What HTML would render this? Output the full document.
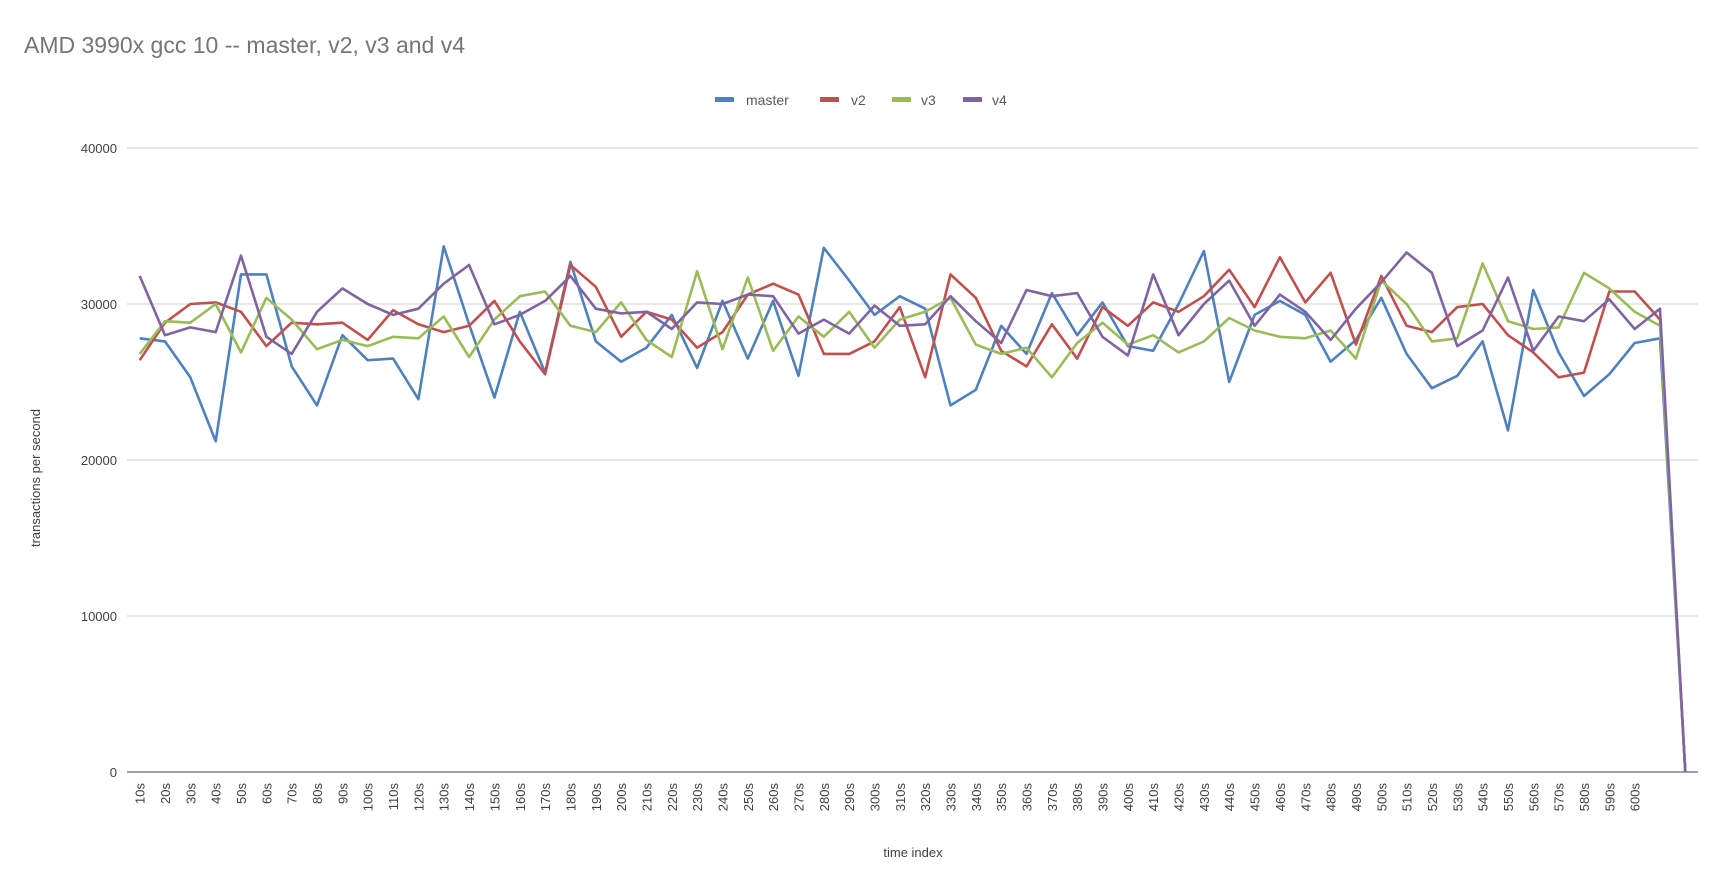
<!DOCTYPE html>
<html><head><meta charset="utf-8"><style>
html,body{margin:0;padding:0;background:#fff;}
svg{display:block;font-family:"Liberation Sans",sans-serif;}
</style></head><body>
<svg id="c" width="1722" height="871" xmlns="http://www.w3.org/2000/svg">
<text x="24" y="53" font-size="23" fill="#757575">AMD 3990x gcc 10 -- master, v2, v3 and v4</text>
<rect x="715" y="97" width="19" height="5" fill="#4f81bd"/><text x="746" y="105" font-size="14" fill="#595959">master</text>
<rect x="820" y="97" width="19" height="5" fill="#c0504d"/><text x="851" y="105" font-size="14" fill="#595959">v2</text>
<rect x="892" y="97" width="19" height="5" fill="#9bbb59"/><text x="921" y="105" font-size="14" fill="#595959">v3</text>
<rect x="963" y="97" width="19" height="5" fill="#8064a2"/><text x="992" y="105" font-size="14" fill="#595959">v4</text>
<text transform="translate(40,478) rotate(-90)" text-anchor="middle" font-size="13" fill="#404040">transactions per second</text>
<text x="913" y="857" text-anchor="middle" font-size="13" fill="#404040">time index</text>
<g id="g"></g>
</svg>
<script>
var g=document.getElementById('g'),h='';
var L=127,R=1698,Y0=772,K=15.6/1000,W=(R-L)/62;
for(var v=10000;v<=40000;v+=10000){var y=Y0-v*K;h+='<line x1="'+L+'" x2="'+R+'" y1="'+y+'" y2="'+y+'" stroke="#d9d9d9" stroke-width="1.3"/>';}
for(var v=0;v<=40000;v+=10000){h+='<text x="117" y="'+(Y0-v*K+5)+'" text-anchor="end" font-size="13" fill="#404040">'+v+'</text>';}
h+='<line x1="'+L+'" x2="'+R+'" y1="'+Y0+'" y2="'+Y0+'" stroke="#7f7f7f" stroke-width="1.5"/>';
for(var i=0;i<60;i++){var x=L+W*(i+0.5)+5;h+='<text transform="translate('+x+',783) rotate(-90)" text-anchor="end" font-size="13" fill="#404040">'+((i+1)*10)+'s</text>';}
var S=[
["#4f81bd",[27800,27600,25300,21200,31900,31900,26000,23500,28000,26400,26500,23900,33700,28700,24000,29500,25600,32700,27600,26300,27200,29300,25900,30200,26500,30200,25400,33600,31500,29300,30500,29700,23500,24500,28600,26800,30700,28000,30100,27300,27000,30000,33400,25000,29300,30200,29300,26300,27700,30400,26800,24600,25400,27600,21900,30900,26900,24100,25500,27500,27800,0]],
["#c0504d",[26400,28800,30000,30100,29500,27300,28800,28700,28800,27700,29600,28700,28200,28600,30200,27600,25500,32500,31100,27900,29500,29000,27200,28200,30600,31300,30600,26800,26800,27600,29800,25300,31900,30400,27000,26000,28700,26500,29800,28600,30100,29500,30500,32200,29800,33000,30100,32000,27400,31800,28600,28200,29800,30000,28000,26900,25300,25600,30800,30800,29000,0]],
["#9bbb59",[26800,28900,28800,30000,26900,30400,29000,27100,27700,27300,27900,27800,29200,26600,29000,30500,30800,28600,28200,30100,27700,26600,32100,27100,31700,27000,29200,27900,29500,27200,29000,29500,30400,27400,26800,27200,25300,27500,28800,27400,28000,26900,27600,29100,28300,27900,27800,28300,26500,31500,30000,27600,27800,32600,28900,28400,28500,32000,31000,29500,28600,0]],
["#8064a2",[31800,28000,28500,28200,33100,27900,26800,29500,31000,30000,29300,29700,31300,32500,28700,29300,30200,31800,29700,29400,29500,28400,30100,30000,30600,30500,28100,29000,28100,29900,28600,28700,30500,28900,27500,30900,30500,30700,27900,26700,31900,28000,30000,31500,28600,30600,29500,27700,29700,31400,33300,32000,27300,28300,31700,27000,29200,28900,30300,28400,29700,0]]];
S.forEach(function(s){var p=s[1].map(function(v,i){return (L+W*(i+0.5)).toFixed(1)+','+(Y0-v*K).toFixed(1);}).join(' ');
h+='<polyline points="'+p+'" fill="none" stroke="'+s[0]+'" stroke-width="2.6" stroke-linejoin="round"/>';});
g.innerHTML=h;
</script>
</body></html>
